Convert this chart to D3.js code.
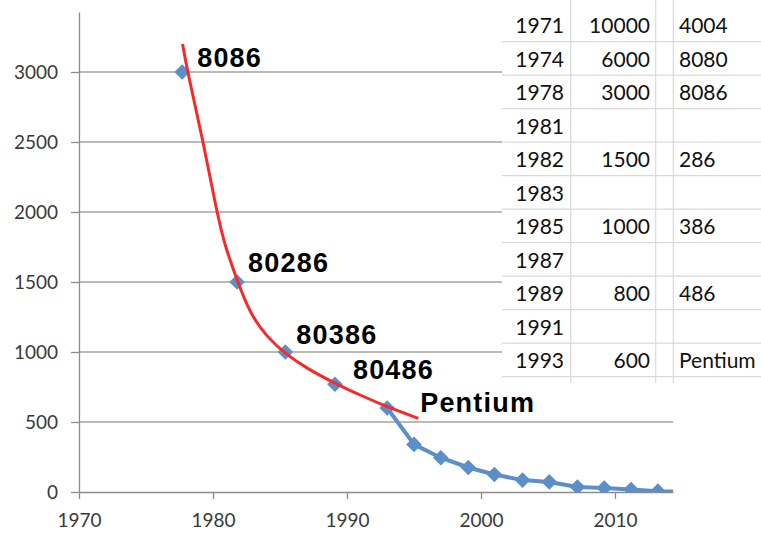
<!DOCTYPE html>
<html>
<head>
<meta charset="utf-8">
<script src="https://cdn.jsdelivr.net/npm/d3@7"></script>
<style>
  html, body { margin: 0; padding: 0; background: #fff; }
  svg { display: block; }
</style>
</head>
<body>
<svg id="chart" width="761" height="534"></svg>
<script>
// chip points (markers only)
var chipYears = [1977.7, 1981.8, 1985.4, 1989.1, 1993.0];
var chipValues = [3000, 1500, 1000, 770, 600];
var chipNames = ["8086", "80286", "80386", "80486", "Pentium"];

// later series, joined by a line (last point falls past the axis end)
var lineYears = [1993.0, 1995.0, 1997.0, 1999.05, 2001.0, 2003.1, 2005.1, 2007.2, 2009.2, 2011.2, 2013.2, 2015.2];
var lineValues = [600, 340, 245, 175, 125, 85, 72, 36, 29, 17, 6, 3];

// red trend curve
var trendYears = [1977.73, 1978.1, 1979.28, 1980.28, 1980.9, 1981.89, 1982.76, 1984.01, 1985.37, 1986.99, 1989.1, 1990.97, 1992.96, 1995.32];
var trendValues = [3200, 3000, 2500, 2002, 1752, 1491, 1276, 1109, 990, 883, 776, 693, 609, 526];

var xTicks = [1970, 1980, 1990, 2000, 2010];
var yTicks = [0, 500, 1000, 1500, 2000, 2500, 3000];

// spreadsheet cells pasted over the chart
var tableYears = [1971, 1974, 1978, 1981, 1982, 1983, 1985, 1987, 1989, 1991, 1993];
var tableValues = [10000, 6000, 3000, null, 1500, null, 1000, null, 800, null, 600];
var tableChips = ["4004", "8080", "8086", "", "286", "", "386", "", "486", "", "Pentium"];

// label nudges in px, relative to each chip point
var labelDx = [15, 11, 11, 18, 33];
var labelDy = [-5, -10, -8, -5, 4];

var svg = d3.select("#chart");
var plotLeft = 79, plotRight = 673, plotTop = 12, plotBottom = 492;

var x = d3.scaleLinear().domain([1970, 2014.33]).range([plotLeft, plotRight]);
var y = d3.scaleLinear().domain([0, 3428.6]).range([plotBottom, plotTop]);

var blue = "#5b8fca";
var red = "#f52a2a";
var axisFont = "Lato, 'Open Sans', sans-serif";

svg.append("defs").append("clipPath")
  .attr("id", "plot-clip")
  .append("rect")
  .attr("x", plotLeft)
  .attr("y", plotTop)
  .attr("width", plotRight - plotLeft)
  .attr("height", plotBottom - plotTop);

// gridlines
svg.append("g")
  .selectAll("line")
  .data(yTicks.filter(function(d) { return d > 0; }))
  .join("line")
  .attr("x1", plotLeft)
  .attr("x2", plotRight)
  .attr("y1", function(d) { return y(d); })
  .attr("y2", function(d) { return y(d); })
  .attr("stroke", "#a3a3a3")
  .attr("stroke-width", 1.3);

// y axis
var yAxis = svg.append("g")
  .attr("transform", "translate(" + plotLeft + ",0)")
  .call(d3.axisLeft(y).tickValues(yTicks).tickSize(8).tickSizeOuter(0).tickPadding(13).tickFormat(d3.format("d")));
yAxis.select(".domain").attr("stroke", "#8c8c8c").attr("stroke-width", 1.3);
yAxis.selectAll(".tick line").attr("stroke", "#8c8c8c").attr("stroke-width", 1.3);
yAxis.selectAll(".tick text")
  .attr("fill", "#3a3a3a")
  .style("font-family", axisFont)
  .style("font-size", "19px");

// x axis
var xAxis = svg.append("g")
  .attr("transform", "translate(0," + plotBottom + ")")
  .call(d3.axisBottom(x).tickValues(xTicks).tickSize(7).tickSizeOuter(0).tickPadding(15).tickFormat(d3.format("d")));
xAxis.select(".domain").attr("stroke", "#8c8c8c").attr("stroke-width", 1.3);
xAxis.selectAll(".tick line").attr("stroke", "#8c8c8c").attr("stroke-width", 1.3);
xAxis.selectAll(".tick text")
  .attr("fill", "#3a3a3a")
  .style("font-family", axisFont)
  .style("font-size", "19px");

// blue series line
var lineData = d3.zip(lineYears, lineValues);
svg.append("path")
  .datum(lineData)
  .attr("clip-path", "url(#plot-clip)")
  .attr("fill", "none")
  .attr("stroke", blue)
  .attr("stroke-width", 4)
  .attr("stroke-linejoin", "round")
  .attr("d", d3.line()
    .x(function(d) { return x(d[0]); })
    .y(function(d) { return y(d[1]); }));

// diamond markers
var diamond = d3.symbol().type(d3.symbolDiamond2).size(155);
var markerData = d3.zip(chipYears, chipValues).concat(lineData.slice(1));
svg.append("g")
  .attr("clip-path", "url(#plot-clip)")
  .selectAll("path")
  .data(markerData)
  .join("path")
  .attr("transform", function(d) { return "translate(" + x(d[0]) + "," + y(d[1]) + ")"; })
  .attr("d", diamond)
  .attr("fill", blue);

// red trend curve
svg.append("path")
  .datum(d3.zip(trendYears, trendValues))
  .attr("fill", "none")
  .attr("stroke", red)
  .attr("stroke-width", 3)
  .attr("d", d3.line()
    .curve(d3.curveBasis)
    .x(function(d) { return x(d[0]); })
    .y(function(d) { return y(d[1]); }));

// chip labels
svg.append("g")
  .selectAll("text")
  .data(chipNames)
  .join("text")
  .attr("x", function(d, i) { return x(chipYears[i]) + labelDx[i]; })
  .attr("y", function(d, i) { return y(chipValues[i]) + labelDy[i]; })
  .attr("fill", "#000")
  .attr("font-family", "'Liberation Sans', Arial, sans-serif")
  .attr("font-weight", "bold")
  .style("font-size", "27px")
  .style("letter-spacing", "1.2px")
  .text(function(d) { return d; });

// pasted table
var tableLeft = 502, rowTop = 8.2, rowH = 33.5;
var colLines = [570.7, 655.7, 673.3];
var table = svg.append("g");

table.append("rect")
  .attr("x", tableLeft)
  .attr("y", 0)
  .attr("width", 761 - tableLeft)
  .attr("height", 383)
  .attr("fill", "#fff");

table.selectAll(".hline")
  .data(d3.range(tableYears.length))
  .join("line")
  .attr("class", "hline")
  .attr("x1", tableLeft)
  .attr("x2", 761)
  .attr("y1", function(i) { return rowTop + (i + 1) * rowH; })
  .attr("y2", function(i) { return rowTop + (i + 1) * rowH; })
  .attr("stroke", "#dadada")
  .attr("stroke-width", 1.2);

table.selectAll(".vline")
  .data(colLines)
  .join("line")
  .attr("class", "vline")
  .attr("x1", function(d) { return d; })
  .attr("x2", function(d) { return d; })
  .attr("y1", 0)
  .attr("y2", 383)
  .attr("stroke", "#dadada")
  .attr("stroke-width", 1.2);

var cellFont = "Lato, 'Open Sans', sans-serif";
function cells(values, xPos, anchor) {
  table.append("g")
    .selectAll("text")
    .data(values)
    .join("text")
    .attr("x", xPos)
    .attr("y", function(d, i) { return rowTop + (i + 1) * rowH - 8.4; })
    .attr("text-anchor", anchor)
    .attr("fill", "#111")
    .attr("font-family", cellFont)
    .style("font-size", "21px")
    .text(function(d) { return d == null ? "" : d; });
}
cells(tableYears, 564, "end");
cells(tableValues, 650, "end");
cells(tableChips, 679, "start");
</script>
</body>
</html>
